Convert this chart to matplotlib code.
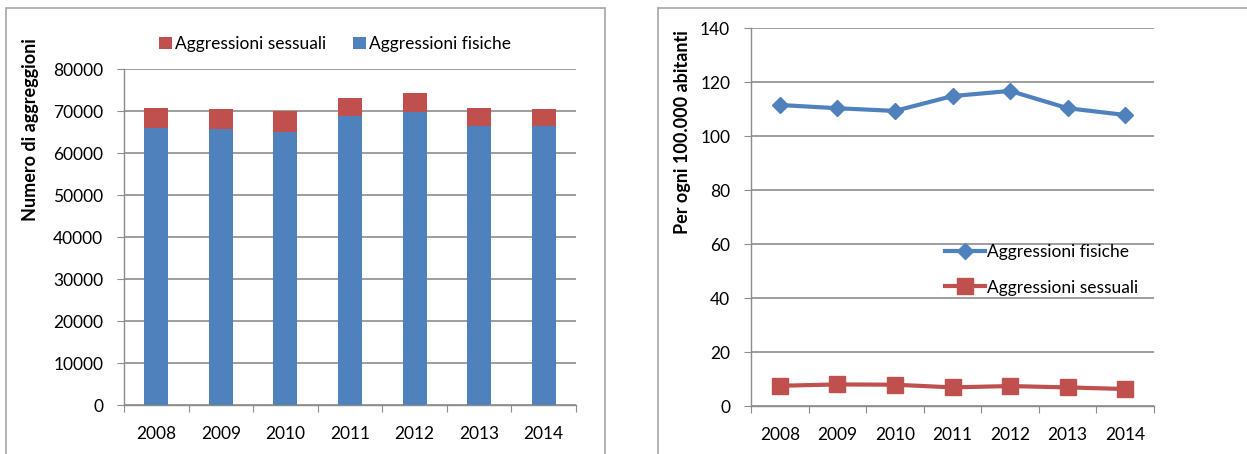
import matplotlib as mpl
mpl.use("Agg")
import matplotlib.pyplot as plt
from matplotlib.patches import Rectangle

# data
years = ["2008", "2009", "2010", "2011", "2012", "2013", "2014"]
fisiche_n = [66000, 65600, 65000, 68700, 69800, 66400, 66400]
sessuali_n = [4800, 4800, 4900, 4300, 4400, 4400, 4000]
fisiche_rate = [111.6, 110.4, 109.4, 114.9, 116.8, 110.4, 107.9]
sessuali_rate = [7.6, 8.1, 8.0, 7.0, 7.5, 7.0, 6.4]

BLUE = "#4F81BD"
RED = "#C0504D"
GRID = "#8C8C8C"
FONT = "Lato"
FS = 12.5

plt.rc("font", family=[FONT, "DejaVu Sans"], size=FS)
plt.rc("axes", edgecolor=GRID, linewidth=1.0)

W, H = 1247, 454
fig = plt.figure(figsize=(W / 100, H / 100), dpi=100)

# panel frames
fig.patches.append(Rectangle((6 / W, -0.1), (605 - 6) / W, 1.1 - 8 / H,
                             transform=fig.transFigure, fill=False,
                             edgecolor="#A6A6A6", linewidth=1.2))
fig.patches.append(Rectangle((658 / W, -0.1), 1.0, 1.1 - 8 / H,
                             transform=fig.transFigure, fill=False,
                             edgecolor="#A6A6A6", linewidth=1.2))

x = list(range(len(years)))


def style_axis(ax):
    ax.set_xlim(-0.5, len(years) - 0.5)
    ax.set_xticks([i - 0.5 for i in range(len(years) + 1)])
    ax.set_xticklabels([])
    ax.set_xticks(x, minor=True)
    ax.set_xticklabels(years, minor=True)
    ax.tick_params(axis="x", which="major", length=5, color=GRID, direction="out")
    ax.tick_params(axis="x", which="minor", length=0, pad=15, labelsize=FS)
    ax.tick_params(axis="y", length=5, color=GRID, direction="out", pad=10, labelsize=FS)
    for s in ("top", "right"):
        ax.spines[s].set_visible(False)
    ax.grid(axis="y", color=GRID, linewidth=1.2)
    ax.set_axisbelow(True)


# left: stacked bars
ax1 = fig.add_axes([124 / W, 1 - 405 / H, (576 - 124) / W, (405 - 69) / H])
ax1.bar(x, fisiche_n, width=0.37, color=BLUE, label="Aggressioni fisiche")
ax1.bar(x, sessuali_n, width=0.37, bottom=fisiche_n, color=RED,
        label="Aggressioni sessuali")
ax1.set_ylim(0, 80000)
ax1.set_yticks(range(0, 80001, 10000))
style_axis(ax1)
ax1.set_ylabel("Numero di aggreggioni", fontweight="bold", fontsize=13)
ax1.yaxis.set_label_coords(39 / W, 1 - 130 / H, transform=fig.transFigure)
h, l = ax1.get_legend_handles_labels()
fig.legend(h[::-1], l[::-1], loc="center", bbox_to_anchor=(335 / W, 1 - 44 / H),
           ncol=2, frameon=False, handlelength=0.75, handleheight=0.75,
           handletextpad=0.15, columnspacing=1.6, fontsize=FS)

# right: rates per 100.000
ax2 = fig.add_axes([751 / W, 1 - 406.3 / H, 403 / W, (406.3 - 28.3) / H])
ax2.plot(x, fisiche_rate, color=BLUE, linewidth=3, marker="D", markersize=8,
         label="Aggressioni fisiche")
ax2.plot(x, sessuali_rate, color=RED, linewidth=3, marker="s", markersize=11,
         label="Aggressioni sessuali")
ax2.set_ylim(0, 140)
ax2.set_yticks(range(0, 141, 20))
style_axis(ax2)
ax2.set_ylabel("Per ogni 100.000 abitanti", fontweight="bold", fontsize=13)
ax2.yaxis.set_label_coords(691 / W, 1 - 132 / H, transform=fig.transFigure)
ax2.legend(loc="center left", bbox_to_anchor=(945 / W, 1 - 270 / H),
           bbox_transform=fig.transFigure, frameon=False, borderpad=0,
           borderaxespad=0, handlelength=2.3, handletextpad=0.1,
           labelspacing=1.1, fontsize=FS)

fig.savefig("out.png", dpi=100)
